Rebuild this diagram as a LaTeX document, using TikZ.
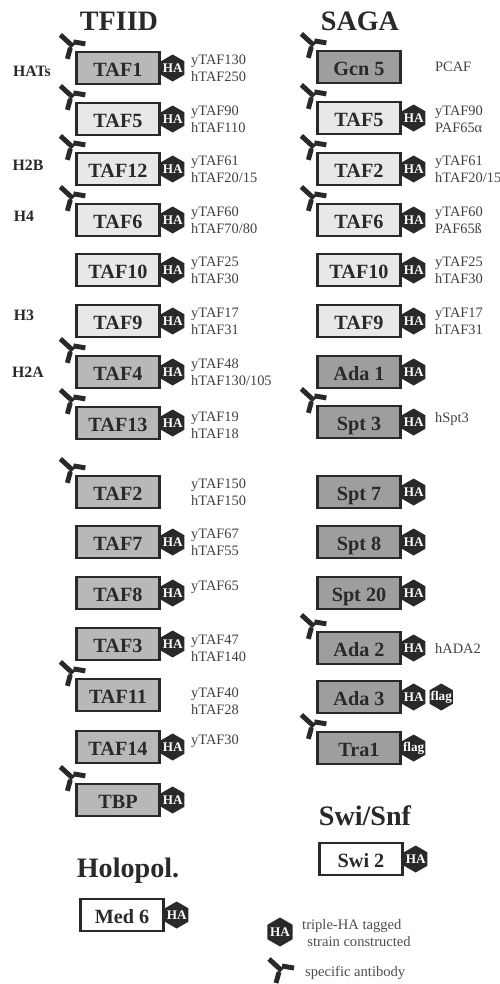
\documentclass[tikz,border=0pt]{standalone}
\usepackage{fontspec}
\setmainfont{Liberation Serif}
\usetikzlibrary{shapes.geometric,positioning}
\definecolor{inkdark}{gray}{0.16}
\definecolor{boxlight}{gray}{0.91}
\definecolor{boxmid}{gray}{0.72}
\definecolor{boxdark}{gray}{0.62}
\tikzset{
  subunit/.style={draw=inkdark,line width=1.3pt,minimum width=1.66cm,minimum height=0.64cm,
    inner sep=0pt,text=inkdark,font=\fontsize{11.5}{12}\selectfont\bfseries,text height=2ex,text depth=0pt},
  hatag/.style={regular polygon,regular polygon sides=6,shape border rotate=30,fill=inkdark,inner sep=-2pt,
    minimum size=0.54cm,text=white,font=\fontsize{7.5}{8}\selectfont\bfseries},
  complexname/.style={text=inkdark,font=\fontsize{16}{18}\selectfont\bfseries},
  tafnames/.style={anchor=west,align=left,text=black!75,font=\fontsize{8.2}{9.6}\selectfont},
  histone/.style={text=inkdark,font=\fontsize{9}{10}\selectfont\bfseries},
  legendtext/.style={anchor=west,align=left,text=black!70,font=\fontsize{8.3}{10.2}\selectfont},
  antibody/.pic={
    \draw[inkdark,line width=2.8pt] (-15,-16)--(-3,-5);
    \draw[inkdark,line width=1pt] (-3,-5)--(0,-8);
    \draw[inkdark,line width=1pt] (-3,-5)--(-6,-2);
    \draw[inkdark,line width=2.8pt] (-2,-9)--(10,-7);
    \draw[inkdark,line width=2.8pt] (-5,-3)--(-8,8);
  }
}
\begin{document}
\begin{tikzpicture}[x=0.02cm,y=-0.02cm]
  \useasboundingbox (0,0) rectangle (500,984);

  \node[complexname] (tfiid) at (119,21) {TFIID};
  \node[complexname] (saga) at (360,21) {SAGA};
  \node[complexname] (swisnf) at (365,816) {Swi/Snf};
  \node[complexname] (holopol) at (128,871) {Holopol.};

  % TFIID column
  \node[subunit,fill=boxmid] (ltafa) at (118,68) {TAF1};
  \node[subunit,fill=boxlight] (ltafe) at (118,119) {TAF5};
  \node[subunit,fill=boxlight] (ltafl) at (118,169) {TAF12};
  \node[subunit,fill=boxlight] (ltaff) at (118,220) {TAF6};
  \node[subunit,fill=boxlight] (ltafj) at (118,270) {TAF10};
  \node[subunit,fill=boxlight] (ltafi) at (118,321) {TAF9};
  \node[subunit,fill=boxmid] (ltafd) at (118,372) {TAF4};
  \node[subunit,fill=boxmid] (ltafm) at (118,423) {TAF13};
  \node[subunit,fill=boxmid] (ltafb) at (118,492) {TAF2};
  \node[subunit,fill=boxmid] (ltafg) at (118,542) {TAF7};
  \node[subunit,fill=boxmid] (ltafh) at (118,593) {TAF8};
  \node[subunit,fill=boxmid] (ltafc) at (118,644) {TAF3};
  \node[subunit,fill=boxmid] (ltafk) at (118,695) {TAF11};
  \node[subunit,fill=boxmid] (ltafn) at (118,747) {TAF14};
  \node[subunit,fill=boxmid] (tbp) at (118,800) {TBP};
  \node[subunit,fill=white] (med) at (122,915) {Med 6};

  % SAGA column
  \node[subunit,fill=boxdark] (gcn) at (359,67) {Gcn 5};
  \node[subunit,fill=boxlight] (rtafe) at (359,118) {TAF5};
  \node[subunit,fill=boxlight] (rtafb) at (359,169) {TAF2};
  \node[subunit,fill=boxlight] (rtaff) at (359,220) {TAF6};
  \node[subunit,fill=boxlight] (rtafj) at (359,270) {TAF10};
  \node[subunit,fill=boxlight] (rtafi) at (359,321) {TAF9};
  \node[subunit,fill=boxdark] (adaa) at (359,372) {Ada 1};
  \node[subunit,fill=boxdark] (sptc) at (359,422) {Spt 3};
  \node[subunit,fill=boxdark] (sptg) at (359,492) {Spt 7};
  \node[subunit,fill=boxdark] (spth) at (359,542) {Spt 8};
  \node[subunit,fill=boxdark] (sptt) at (359,593) {Spt 20};
  \node[subunit,fill=boxdark] (adab) at (359,648) {Ada 2};
  \node[subunit,fill=boxdark] (adac) at (359,697) {Ada 3};
  \node[subunit,fill=boxdark] (tra) at (359,748) {Tra1};
  \node[subunit,fill=white] (swi) at (361,859) {Swi 2};

  % HA tags
  \node[hatag,right=0pt of ltafa] (hlafa) {HA};
  \node[hatag,right=0pt of ltafe] (hlafe) {HA};
  \node[hatag,right=0pt of ltafl] (hlafl) {HA};
  \node[hatag,right=0pt of ltaff] (hlaff) {HA};
  \node[hatag,right=0pt of ltafj] (hlafj) {HA};
  \node[hatag,right=0pt of ltafi] (hlafi) {HA};
  \node[hatag,right=0pt of ltafd] (hlafd) {HA};
  \node[hatag,right=0pt of ltafm] (hlafm) {HA};
  \node[hatag,right=0pt of ltafg] (hlafg) {HA};
  \node[hatag,right=0pt of ltafh] (hlafh) {HA};
  \node[hatag,right=0pt of ltafc] (hlafc) {HA};
  \node[hatag,right=0pt of ltafn] (hlafn) {HA};
  \node[hatag,right=0pt of tbp] (htbp) {HA};
  \node[hatag,right=0pt of med] (hmed) {HA};
  \node[hatag,right=0pt of rtafe] (hrafe) {HA};
  \node[hatag,right=0pt of rtafb] (hrafb) {HA};
  \node[hatag,right=0pt of rtaff] (hraff) {HA};
  \node[hatag,right=0pt of rtafj] (hrafj) {HA};
  \node[hatag,right=0pt of rtafi] (hrafi) {HA};
  \node[hatag,right=0pt of adaa] (hadaa) {HA};
  \node[hatag,right=0pt of sptc] (hsptc) {HA};
  \node[hatag,right=0pt of sptg] (hsptg) {HA};
  \node[hatag,right=0pt of spth] (hspth) {HA};
  \node[hatag,right=0pt of sptt] (hsptt) {HA};
  \node[hatag,right=0pt of adab] (hadab) {HA};
  \node[hatag,right=0pt of adac] (hadac) {HA};
  \node[hatag,right=0pt of swi] (hswi) {HA};
  \node[hatag,right=2pt of hadac] (fadac) {flag};
  \node[hatag,right=0pt of tra] (ftra) {flag};

  % antibodies
  \pic at (ltafa.north west) {antibody};
  \pic at (ltafe.north west) {antibody};
  \pic at (ltafl.north west) {antibody};
  \pic at (ltaff.north west) {antibody};
  \pic at (ltafd.north west) {antibody};
  \pic at (ltafm.north west) {antibody};
  \pic at (ltafb.north west) {antibody};
  \pic at (ltafk.north west) {antibody};
  \pic at (tbp.north west) {antibody};
  \pic at (gcn.north west) {antibody};
  \pic at (rtafe.north west) {antibody};
  \pic at (rtafb.north west) {antibody};
  \pic at (rtaff.north west) {antibody};
  \pic at (sptc.north west) {antibody};
  \pic at (adab.north west) {antibody};
  \pic at (tra.north west) {antibody};

  % homologue names
  \node[tafnames] (nlafa) at (185,68) {yTAF130\\hTAF250};
  \node[tafnames] (nlafe) at (185,119) {yTAF90\\hTAF110};
  \node[tafnames] (nlafl) at (185,169) {yTAF61\\hTAF20/15};
  \node[tafnames] (nlaff) at (185,220) {yTAF60\\hTAF70/80};
  \node[tafnames] (nlafj) at (185,270) {yTAF25\\hTAF30};
  \node[tafnames] (nlafi) at (185,321) {yTAF17\\hTAF31};
  \node[tafnames] (nlafd) at (185,372) {yTAF48\\hTAF130/105};
  \node[tafnames] (nlafm) at (185,425) {yTAF19\\hTAF18};
  \node[tafnames] (nlafb) at (185,492) {yTAF150\\hTAF150};
  \node[tafnames] (nlafg) at (185,542) {yTAF67\\hTAF55};
  \node[tafnames] (nlafh) at (185,587) {yTAF65};
  \node[tafnames] (nlafc) at (185,648) {yTAF47\\hTAF140};
  \node[tafnames] (nlafk) at (185,701) {yTAF40\\hTAF28};
  \node[tafnames] (nlafn) at (185,741) {yTAF30};
  \node[tafnames] (ngcn) at (429,67) {PCAF};
  \node[tafnames] (nrafe) at (429,119) {yTAF90\\PAF65α};
  \node[tafnames] (nrafb) at (429,169) {yTAF61\\hTAF20/15};
  \node[tafnames] (nraff) at (429,220) {yTAF60\\PAF65ß};
  \node[tafnames] (nrafj) at (429,270) {yTAF25\\hTAF30};
  \node[tafnames] (nrafi) at (429,321) {yTAF17\\hTAF31};
  \node[tafnames] (nsptc) at (429,419) {hSpt3};
  \node[tafnames] (nadab) at (429,649) {hADA2};

  % histone-like labels
  \node[histone] (hats) at (32,71) {HATs};
  \node[histone] (hbb) at (28,165) {H2B};
  \node[histone] (hd) at (24,216) {H4};
  \node[histone] (hc) at (24,315) {H3};
  \node[histone] (hba) at (28,372) {H2A};

  % legend
  \node[hatag,minimum size=0.58cm] (keyha) at (280,932) {HA};
  \node[legendtext] (keyhatext) at (296,933) {triple-HA tagged\\\hspace*{3pt}strain constructed};
  \pic (keyab) at (284,975) {antibody};
  \node[legendtext] (keyabtext) at (299,973) {specific antibody};
\end{tikzpicture}
\end{document}
